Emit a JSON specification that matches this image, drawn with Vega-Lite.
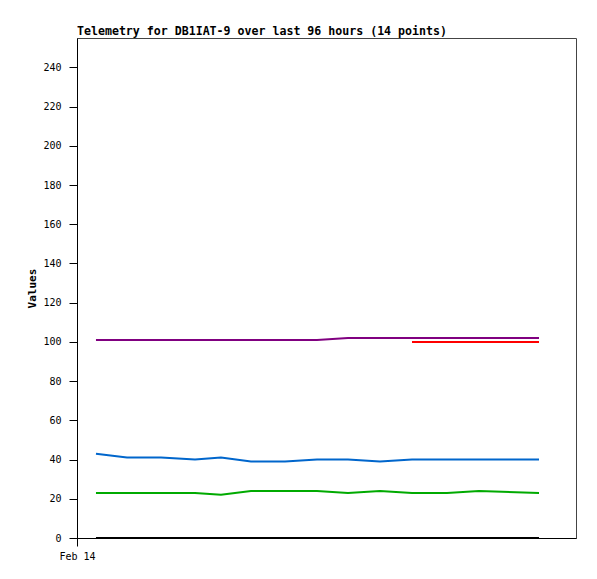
{
  "$schema": "https://vega.github.io/schema/vega-lite/v6.json",
  "width": 499,
  "height": 500,
  "padding": {"left": 26, "top": 26, "right": 5, "bottom": 5},
  "background": "white",
  "title": {"text": "Telemetry for DB1IAT-9 over last 96 hours (14 points)", "anchor": "start", "frame": "group", "font": "DejaVu Sans Mono", "fontSize": 11.6, "fontWeight": "bold", "offset": 0, "color": "black"},
  "config": {
    "view": {"stroke": "#444", "strokeWidth": 1},
    "axis": {"grid": false, "domainColor": "black", "tickColor": "black", "labelFont": "DejaVu Sans Mono", "labelFontSize": 10, "labelColor": "black", "titleFont": "DejaVu Sans Mono", "titleFontSize": 11, "titleFontWeight": "bold", "titleColor": "black", "tickSize": 8}
  },
  "datasets": {
    "telemetry": [
      {"time": "2024-02-14T03:39", "series": "Channel 1", "value": 101},
      {"time": "2024-02-14T09:37", "series": "Channel 1", "value": 101},
      {"time": "2024-02-14T16:10", "series": "Channel 1", "value": 101},
      {"time": "2024-02-14T22:42", "series": "Channel 1", "value": 101},
      {"time": "2024-02-15T03:42", "series": "Channel 1", "value": 101},
      {"time": "2024-02-15T09:28", "series": "Channel 1", "value": 101},
      {"time": "2024-02-15T16:01", "series": "Channel 1", "value": 101},
      {"time": "2024-02-15T22:10", "series": "Channel 1", "value": 101},
      {"time": "2024-02-16T04:08", "series": "Channel 1", "value": 102},
      {"time": "2024-02-16T10:17", "series": "Channel 1", "value": 102},
      {"time": "2024-02-16T16:27", "series": "Channel 1", "value": 102},
      {"time": "2024-02-16T23:11", "series": "Channel 1", "value": 102},
      {"time": "2024-02-17T05:20", "series": "Channel 1", "value": 102},
      {"time": "2024-02-17T16:53", "series": "Channel 1", "value": 102},

      {"time": "2024-02-16T16:27", "series": "Channel 2", "value": 100},
      {"time": "2024-02-16T23:11", "series": "Channel 2", "value": 100},
      {"time": "2024-02-17T05:20", "series": "Channel 2", "value": 100},
      {"time": "2024-02-17T16:53", "series": "Channel 2", "value": 100},

      {"time": "2024-02-14T03:39", "series": "Channel 3", "value": 43},
      {"time": "2024-02-14T09:37", "series": "Channel 3", "value": 41},
      {"time": "2024-02-14T16:10", "series": "Channel 3", "value": 41},
      {"time": "2024-02-14T22:42", "series": "Channel 3", "value": 40},
      {"time": "2024-02-15T03:42", "series": "Channel 3", "value": 41},
      {"time": "2024-02-15T09:28", "series": "Channel 3", "value": 39},
      {"time": "2024-02-15T16:01", "series": "Channel 3", "value": 39},
      {"time": "2024-02-15T22:10", "series": "Channel 3", "value": 40},
      {"time": "2024-02-16T04:08", "series": "Channel 3", "value": 40},
      {"time": "2024-02-16T10:17", "series": "Channel 3", "value": 39},
      {"time": "2024-02-16T16:27", "series": "Channel 3", "value": 40},
      {"time": "2024-02-16T23:11", "series": "Channel 3", "value": 40},
      {"time": "2024-02-17T05:20", "series": "Channel 3", "value": 40},
      {"time": "2024-02-17T16:53", "series": "Channel 3", "value": 40},

      {"time": "2024-02-14T03:39", "series": "Channel 4", "value": 23},
      {"time": "2024-02-14T09:37", "series": "Channel 4", "value": 23},
      {"time": "2024-02-14T16:10", "series": "Channel 4", "value": 23},
      {"time": "2024-02-14T22:42", "series": "Channel 4", "value": 23},
      {"time": "2024-02-15T03:42", "series": "Channel 4", "value": 22},
      {"time": "2024-02-15T09:28", "series": "Channel 4", "value": 24},
      {"time": "2024-02-15T16:01", "series": "Channel 4", "value": 24},
      {"time": "2024-02-15T22:10", "series": "Channel 4", "value": 24},
      {"time": "2024-02-16T04:08", "series": "Channel 4", "value": 23},
      {"time": "2024-02-16T10:17", "series": "Channel 4", "value": 24},
      {"time": "2024-02-16T16:27", "series": "Channel 4", "value": 23},
      {"time": "2024-02-16T23:11", "series": "Channel 4", "value": 23},
      {"time": "2024-02-17T05:20", "series": "Channel 4", "value": 24},
      {"time": "2024-02-17T16:53", "series": "Channel 4", "value": 23},

      {"time": "2024-02-14T03:39", "series": "Channel 5", "value": 0},
      {"time": "2024-02-14T09:37", "series": "Channel 5", "value": 0},
      {"time": "2024-02-14T16:10", "series": "Channel 5", "value": 0},
      {"time": "2024-02-14T22:42", "series": "Channel 5", "value": 0},
      {"time": "2024-02-15T03:42", "series": "Channel 5", "value": 0},
      {"time": "2024-02-15T09:28", "series": "Channel 5", "value": 0},
      {"time": "2024-02-15T16:01", "series": "Channel 5", "value": 0},
      {"time": "2024-02-15T22:10", "series": "Channel 5", "value": 0},
      {"time": "2024-02-16T04:08", "series": "Channel 5", "value": 0},
      {"time": "2024-02-16T10:17", "series": "Channel 5", "value": 0},
      {"time": "2024-02-16T16:27", "series": "Channel 5", "value": 0},
      {"time": "2024-02-16T23:11", "series": "Channel 5", "value": 0},
      {"time": "2024-02-17T05:20", "series": "Channel 5", "value": 0},
      {"time": "2024-02-17T16:53", "series": "Channel 5", "value": 0}
    ]
  },
  "data": {"name": "telemetry"},
  "mark": {"type": "line", "strokeWidth": 2, "interpolate": "linear"},
  "encoding": {
    "x": {
      "field": "time",
      "type": "temporal",
      "scale": {"domain": [{"year": 2024, "month": "feb", "date": 14}, {"year": 2024, "month": "feb", "date": 18}]},
      "axis": {"values": [{"year": 2024, "month": "feb", "date": 14}], "format": "%b %d", "title": null, "labelPadding": 5, "labelFlush": false}
    },
    "y": {
      "field": "value",
      "type": "quantitative",
      "scale": {"domain": [0, 255], "nice": false},
      "axis": {"values": [0, 20, 40, 60, 80, 100, 120, 140, 160, 180, 200, 220, 240], "title": "Values", "titlePadding": 5, "labelPadding": 8}
    },
    "color": {
      "field": "series",
      "type": "nominal",
      "scale": {"domain": ["Channel 1", "Channel 2", "Channel 3", "Channel 4", "Channel 5"], "range": ["#800080", "#ff0000", "#0066cc", "#00aa00", "#000000"]},
      "legend": null
    }
  }
}
